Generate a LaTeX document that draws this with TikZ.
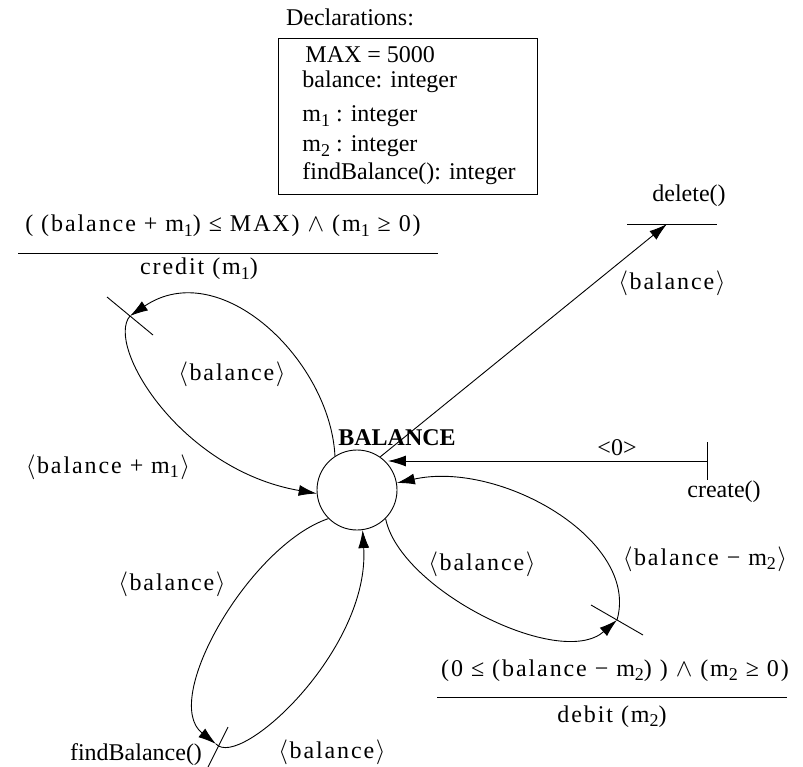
\documentclass[tikz,border=0pt]{standalone}
\usepackage{fontspec}
\setmainfont{Liberation Serif}
\newfontfamily\eqfont[LetterSpace=8]{Liberation Serif}
\usetikzlibrary{arrows.meta, positioning}
\newcommand{\lowidx}[1]{\raisebox{-0.4ex}{\fontsize{18}{18}\selectfont #1}}
\newcommand{\angbal}[1]{$\langle$\kern1.5pt balance#1\kern1.5pt$\rangle$}

\begin{document}
\begin{tikzpicture}[x=1pt, y=-1pt, >={Latex[length=18pt,width=11pt]}, line width=0.9pt,
    every node/.style={inner sep=0pt, font=\fontsize{24}{28}\selectfont}]
  \tikzset{lbl/.style={anchor=base, font=\fontsize{24}{28}\selectfont\eqfont},
           decl/.style={anchor=base west}}
  \useasboundingbox (0,0) rectangle (803,767);

  % declarations
  \node[anchor=base] (dhead) at (350,26) {Declarations:};
  \draw (278,38) rectangle (537,194);
  \node[decl] (d1) at (305,63) {MAX = 5000};
  \node[decl] (d2) at (302,88) {balance: integer};
  \node[decl] (d3) at (302,122) {m\lowidx{1} : integer};
  \node[decl] (d4) at (302,152) {m\lowidx{2} : integer};
  \node[decl] (d5) at (302,180) {findBalance(): integer};

  % state
  \node[circle, draw, minimum size=80pt] (state) at (357,490) {};
  \node[anchor=base, font=\fontsize{24}{28}\selectfont\bfseries] (sname) at (397,445) {BALANCE};

  % create / delete
  \coordinate (crE) at (707,461);
  \draw (707,442) -- (707,480);
  \draw[->] (crE) -- (crE -| state.40);
  \node[anchor=base] (zero) at (617,455) {<0>};
  \node[anchor=base] (create) at (724,497) {create()};
  \coordinate (dlT) at (667,224);
  \draw (627,224) -- (717,224);
  \draw[->] (state.55) -- (dlT);
  \node[anchor=base] (delete) at (689,202) {delete()};
  \node[lbl] (dlout) at (672,290) {\angbal{}};

  % credit
  \coordinate (crT) at (130,316);
  \draw (107,297) -- (153,335);
  \draw[->] (state.123) .. controls (330,360) and (220,255) .. (crT);
  \draw[->] (crT) .. controls (105,345) and (180,470) .. (state.185);
  \node[lbl] (crg) at (223,232) {( (balance + m\lowidx{1}) ≤ MAX) $\wedge$ (m\lowidx{1} ≥ 0)};
  \draw (18,253) -- (438,253);
  \node[lbl] (crev) at (199,275) {credit (m\lowidx{1})};
  \node[lbl] (crout) at (232,380) {\angbal{}};
  \node[lbl] (crin) at (108,473) {\angbal{ + m\lowidx{1}}};

  % debit
  \coordinate (dbT) at (617,620);
  \draw (591,605) -- (643,635);
  \draw[->] (state.-45) .. controls (400,590) and (560,670) .. (dbT);
  \draw[->] (dbT) .. controls (640,540) and (500,460) .. (state.10);
  \node[lbl] (dbg) at (615,676) {(0 ≤ (balance − m\lowidx{2}) ) $\wedge$ (m\lowidx{2} ≥ 0)};
  \draw (437,697) -- (787,697);
  \node[lbl] (dbev) at (612,722) {debit (m\lowidx{2})};
  \node[lbl] (dbout) at (482,570) {\angbal{}};
  \node[lbl] (dbin) at (705,565) {\angbal{ − m\lowidx{2}}};

  % findBalance
  \coordinate (fbT) at (216,744);
  \draw (208,767) -- (228,727);
  \draw[->] (state.225) .. controls (250,545) and (160,700) .. (fbT);
  \draw[->] (fbT) .. controls (240,770) and (370,650) .. (state.-82);
  \node[anchor=base] (fbev) at (136,760) {findBalance()};
  \node[lbl] (fbout) at (172,590) {\angbal{}};
  \node[lbl] (fbin) at (332,758) {\angbal{}};
\end{tikzpicture}
\end{document}
